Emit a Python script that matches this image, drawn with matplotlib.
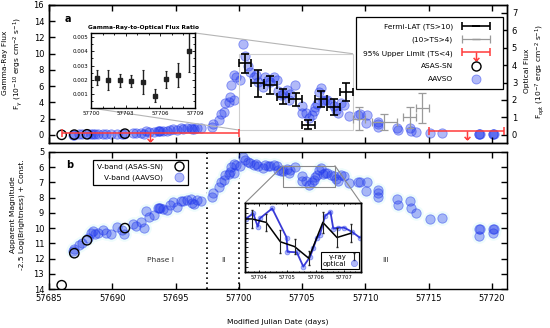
import numpy as np
import matplotlib.pyplot as plt
from matplotlib.patches import Rectangle, ConnectionPatch
from matplotlib.lines import Line2D
from matplotlib.path import Path
from matplotlib.container import ErrorbarContainer
from matplotlib.legend_handler import HandlerErrorbar, HandlerTuple
from matplotlib.ticker import FormatStrFormatter, MultipleLocator

# Fermi-LAT daily bins, TS>10 (flux in 1e-10 erg cm^-2 s^-1)
lat_mjd = [57700.5, 57701.5, 57702.5, 57703.5, 57704.5, 57705.5, 57706.5, 57707.5, 57708.5]
lat_flux = [8.8, 6.35, 6.1, 4.7, 4.4, 1.25, 4.4, 3.4, 5.3]
lat_err = [1.15, 1.7, 1.1, 0.9, 0.8, 0.55, 0.95, 1.0, 1.1]

# weak detections, 10>TS>4
weak_mjd = [57709.5, 57711.5, 57713.5, 57714.5]
weak_xerr = [0.5, 1.0, 0.5, 0.5]
weak_flux = [2.0, 1.6, 2.15, 3.3]
weak_err = [1.45, 1.0, 1.3, 1.85]

# 95% upper limits, TS<4
ul_mjd = [57693.0, 57718.0]
ul_xerr = [7.0, 3.0]
ul_flux = [0.2, 0.5]

# gamma-ray to optical flux ratio
ratio = [0.00215, 0.00197, 0.00197, 0.00192, 0.00184, 0.00088, 0.00202, 0.00233, 0.00403]
ratio_err = [0.00055, 0.0007, 0.00046, 0.00042, 0.00085, 0.00049, 0.00058, 0.00085, 0.0015]

# 12 h gamma-ray bins shown in the zoom of panel b
lat12_mjd = [57703.25, 57703.75, 57704.25, 57704.75, 57705.25, 57705.75, 57706.25, 57706.75, 57707.25]
lat12_flux = [6.15, 6.15, 5.75, 3.5, 2.95, 1.6, 5.75, 4.0, 4.5]
lat12_err = [1.0, 1.0, 0.95, 1.35, 0.85, 0.8, 1.25, 1.15, 1.05]

# ASAS-SN V band
asassn_mjd = [57686.0, 57687.0, 57688.0, 57691.0]
asassn_mag = [13.75, 11.65, 10.8, 10.0]

# AAVSO V band
aavso_mjd = [
    57686.9, 57687.0, 57687.4, 57687.6, 57688.1, 57688.3, 57688.5, 57688.6, 57688.9, 57689.3,
    57689.5, 57689.9, 57690.4, 57690.8, 57690.9, 57691.6, 57691.9, 57692.3, 57692.5, 57692.7,
    57692.9, 57693.3, 57693.6, 57693.7, 57693.8, 57694.0, 57694.3, 57694.6, 57694.8, 57695.1,
    57695.4, 57695.6, 57695.9, 57696.2, 57696.3, 57696.5, 57696.7, 57697.0,
    57697.9, 57698.0, 57698.4, 57698.6, 57698.8, 57698.9, 57699.2, 57699.3, 57699.4, 57699.6, 57699.6, 57699.8,
    57700.1, 57700.35, 57700.5, 57700.7, 57700.9, 57701.2, 57701.4, 57701.5, 57701.9, 57702.1,
    57702.3, 57702.5, 57702.8, 57703.0, 57703.1, 57703.3,
    57703.53, 57703.79, 57703.95, 57704.03, 57704.46, 57704.97, 57705.0, 57705.33, 57705.56, 57705.8,
    57705.91, 57706.03, 57706.15, 57706.33, 57706.52, 57706.62, 57706.8, 57707.0, 57707.27, 57707.55,
    57707.7, 57707.85, 57708.1, 57708.3, 57708.7, 57709.4, 57709.6, 57710.05, 57710.1, 57711.0,
    57711.0, 57711.0, 57712.5, 57712.6, 57713.5, 57713.6, 57714.0, 57715.1, 57716.1, 57719.0,
    57719.0, 57719.05, 57720.1, 57720.1, 57720.15]
aavso_mag = [
    11.5, 11.4, 11.1, 11.0, 10.65, 10.35, 10.2, 10.4, 10.3, 10.15,
    10.35, 10.4, 9.95, 10.15, 10.4, 9.7, 9.85, 9.6, 10.0, 8.9,
    9.3, 9.15, 8.7, 8.65, 8.65, 8.75, 8.8, 8.5, 8.3, 8.6,
    8.2, 8.25, 8.15, 8.1, 8.35, 8.4, 8.15, 8.2,
    7.95, 7.7, 7.3, 6.95, 6.85, 6.5, 6.45, 6.3, 6.0, 5.8, 6.4, 5.85,
    5.9, 5.35, 5.5, 5.65, 5.75, 5.85, 5.8, 5.95, 6.05, 5.85,
    5.9, 5.95, 5.85, 5.9, 6.15, 6.25,
    6.22, 6.11, 6.38, 6.21, 6.01, 6.6, 6.89, 6.9, 7.19, 6.99,
    6.82, 6.62, 6.54, 6.16, 6.08, 6.42, 6.4, 6.4, 6.48, 6.6,
    6.75, 6.9, 6.5, 6.55, 7.05, 7.0, 6.95, 7.55, 7.0, 7.5,
    7.7, 7.95, 8.1, 8.5, 8.2, 8.7, 9.0, 9.4, 9.35, 10.05,
    10.5, 10.05, 10.05, 10.35, 10.05]

phase_edges = [57697.5, 57700.0]
zoom_a = (57700.0, 57709.0, 0.6, 10.0)      # mjd0, mjd1, flux0, flux1
zoom_b = (57703.5, 57707.6, 5.9, 7.3)       # mjd0, mjd1, mag0, mag1

V_ZERO_FLUX = 720.0    # optical flux (1e-7 erg cm^-2 s^-1) of a V=0 source
AXIS_RATIO = 2.15      # left (gamma) units per right (optical) unit

aavso_mjd = np.array(aavso_mjd)
aavso_mag = np.array(aavso_mag)
aavso_flux = V_ZERO_FLUX * 10 ** (-0.4 * aavso_mag)
asassn_flux = V_ZERO_FLUX * 10 ** (-0.4 * np.array(asassn_mag))

blue_face = (0.13, 0.22, 0.93, 0.35)
blue_edge = (0.13, 0.22, 0.93, 0.5)
red = '#ff3b3b'
grey = '#9a9a9a'

plt.rcParams['font.family'] = 'DejaVu Sans'
plt.rcParams['xtick.direction'] = 'in'
plt.rcParams['ytick.direction'] = 'in'
plt.rcParams['axes.linewidth'] = 1.0

fig = plt.figure(figsize=(5.5, 3.28), dpi=100)

# ---------------- panel a ----------------
ax_a = fig.add_axes([0.0891, 0.564, 0.8327, 0.4208])
ax_o = ax_a.twinx()
ax_a.set_zorder(ax_o.get_zorder() + 1)
ax_a.patch.set_visible(False)

ax_o.scatter(aavso_mjd, aavso_flux, s=45, fc=blue_face, ec=blue_edge, lw=0.6)
ax_o.scatter(asassn_mjd, asassn_flux, s=45, facecolors='none', edgecolors='black', lw=1)

h_lat = ax_a.errorbar(lat_mjd, lat_flux, xerr=0.5, yerr=lat_err, fmt='none', ecolor='black',
                      elinewidth=1.2, capsize=3, capthick=1.2, zorder=4)
h_weak = ax_a.errorbar(weak_mjd, weak_flux, xerr=weak_xerr, yerr=weak_err, fmt='none', ecolor=grey,
                       elinewidth=0.9, capsize=3, capthick=0.9, zorder=3)
h_ul = ax_a.errorbar(ul_mjd, ul_flux, xerr=ul_xerr, fmt='none', ecolor=red,
                     elinewidth=1.1, capsize=3, capthick=1.1, zorder=3)
arrow = Path([(0, 0), (0, -1), (-0.35, -0.65), (0, -1), (0.35, -0.65)],
             [Path.MOVETO, Path.LINETO, Path.MOVETO, Path.LINETO, Path.LINETO])
h_arrow, = ax_a.plot(ul_mjd, ul_flux, ls='none', marker=arrow, ms=12, mfc='none', mec=red, mew=1.1)

ax_a.add_patch(Rectangle((zoom_a[0], zoom_a[2]), zoom_a[1] - zoom_a[0], zoom_a[3] - zoom_a[2],
                         fill=False, ec='#cfcfcf', lw=0.8, zorder=1))

ax_a.set_xlim(57685, 57721.2)
ax_a.set_ylim(-1, 16)
ax_o.set_ylim(-1 / AXIS_RATIO, 16 / AXIS_RATIO)
ax_a.set_yticks(range(0, 17, 2))
ax_o.set_yticks(range(0, 8))
ax_a.set_xticks(range(57685, 57721, 5))
ax_a.tick_params(top=True, labelbottom=False, labelsize=6, length=4.5, width=1)
ax_o.tick_params(labelsize=6, length=4.5, width=1)
ax_a.set_ylabel('Gamma-Ray Flux\nF$_\\gamma$ (10$^{-10}$ ergs cm$^{-2}$ s$^{-1}$)', fontsize=5.4,
                linespacing=1.4)
ax_a.yaxis.set_label_coords(-0.052, 0.58)
ax_o.set_ylabel('Optical Flux\nF$_{\\rm opt}$ (10$^{-7}$ ergs cm$^{-2}$ s$^{-1}$)', fontsize=5.4,
                linespacing=1.4, rotation=90)
ax_o.yaxis.set_label_coords(1.037, 0.52)
ax_a.text(0.035, 0.9, 'a', transform=ax_a.transAxes, fontsize=7, fontweight='bold', va='center')

h_asas = Line2D([], [], ls='none', marker='o', ms=6.5, mfc='none', mec='black', mew=1)
h_aav = Line2D([], [], ls='none', marker='o', ms=6.5, mfc=blue_face, mec=blue_edge, mew=0.6)
hmap = {ErrorbarContainer: HandlerErrorbar(xerr_size=1.9, yerr_size=0), tuple: HandlerTuple(ndivide=1)}
leg = ax_a.legend([h_lat, h_weak, (h_ul, h_arrow), h_asas, h_aav],
                  ['Fermi-LAT (TS>10)', '(10>TS>4)', '95% Upper Limit (TS<4)', 'ASAS-SN', 'AAVSO'],
                  handler_map=hmap, loc='upper right', bbox_to_anchor=(0.991, 0.915), markerfirst=False,
                  fontsize=5.3, handlelength=5.6, labelspacing=0.9, borderaxespad=0, fancybox=False,
                  edgecolor='black', framealpha=1, borderpad=0.9, handletextpad=0.3)
leg.get_frame().set_linewidth(0.9)

# ratio inset
ax_r = fig.add_axes([0.1655, 0.6707, 0.189, 0.2287])
ax_r.set_zorder(ax_a.get_zorder() + 1)
ax_r.errorbar(lat_mjd, ratio, yerr=ratio_err, fmt='s', ms=2.2, color='#222222', elinewidth=1,
              capsize=1, capthick=0.8)
ax_r.set_xlim(57700, 57709)
ax_r.set_ylim(0, 0.0053)
ax_r.set_xticks([57700, 57703, 57706, 57709])
ax_r.set_yticks([0.001, 0.002, 0.003, 0.004, 0.005])
ax_r.xaxis.set_major_formatter(FormatStrFormatter('%d'))
ax_r.yaxis.set_major_formatter(FormatStrFormatter('%.3f'))
ax_r.xaxis.set_minor_locator(MultipleLocator(1))
ax_r.yaxis.set_minor_locator(MultipleLocator(0.0005))
ax_r.tick_params(which='both', top=True, right=True, labelsize=4, length=2, width=0.6, pad=2)
ax_r.tick_params(which='minor', length=1.2)
ax_r.set_title('Gamma-Ray-to-Optical Flux Ratio', fontsize=4.2, fontweight='bold', pad=3)

for xa, xb in [((1, 1), (zoom_a[1], zoom_a[3])), ((0, 0), (zoom_a[0], zoom_a[2]))]:
    fig.add_artist(ConnectionPatch(xyA=xa, coordsA=ax_r.transAxes, xyB=xb, coordsB=ax_a.transData,
                                   color='#b5b5b5', lw=0.8))

# ---------------- panel b ----------------
ax_b = fig.add_axes([0.0891, 0.1189, 0.8327, 0.4177])
ax_b.scatter(aavso_mjd, aavso_mag, s=110, color='#eefcfc', lw=0, zorder=1)
ax_b.scatter(aavso_mjd, aavso_mag, s=45, fc=blue_face, ec=blue_edge, lw=0.6, zorder=2)
ax_b.scatter(asassn_mjd, asassn_mag, s=45, facecolors='none', edgecolors='black', lw=1, zorder=3)
for edge in phase_edges:
    ax_b.axvline(edge, color='black', ls=(0, (1, 2)), lw=1.2, zorder=0)
for x, lab in [(57693.8, 'Phase I'), (57698.8, 'II'), (57711.6, 'III')]:
    ax_b.text(x, 12.1, lab, fontsize=5.4, ha='center', va='center', color='#333333')

ax_b.add_patch(Rectangle((zoom_b[0], zoom_b[2]), zoom_b[1] - zoom_b[0], zoom_b[3] - zoom_b[2],
                         fill=False, ec='#8a8a8a', lw=0.8, zorder=4))

ax_b.set_xlim(57685, 57721.2)
ax_b.set_ylim(14, 5)
ax_b.set_yticks(range(5, 15))
ax_b.set_xticks(range(57685, 57721, 5))
ax_b.xaxis.set_major_formatter(FormatStrFormatter('%d'))
ax_b.tick_params(top=True, right=True, labelsize=6, length=4.5, width=1)
ax_b.set_xlabel('Modified Julian Date (days)', fontsize=5.4, labelpad=11)
ax_b.set_ylabel('Apparent Magnitude\n-2.5 Log(Brightness) + Const.', fontsize=5.4, linespacing=1.6)
ax_b.yaxis.set_label_coords(-0.052, 0.54)
ax_b.text(0.037, 0.905, 'b', transform=ax_b.transAxes, fontsize=7, fontweight='bold', va='center')

h_asas_b = Line2D([], [], ls='none', marker='o', ms=6.5, mfc='none', mec='black', mew=1)
leg_b = ax_b.legend([h_asas_b, h_aav], ['V-band (ASAS-SN)', 'V-band (AAVSO)'], loc='upper left',
                    bbox_to_anchor=(0.096, 0.942), markerfirst=False, fontsize=5.3, handlelength=1.5,
                    labelspacing=0.6, borderaxespad=0, fancybox=False, edgecolor='black', framealpha=1,
                    borderpad=0.5, handletextpad=1.5)
leg_b.get_frame().set_linewidth(0.9)

# zoom inset of panel b
ax_z = fig.add_axes([0.4455, 0.1707, 0.2109, 0.2104])
ax_z.set_zorder(ax_b.get_zorder() + 1)
sel = (aavso_mjd >= zoom_b[0]) & (aavso_mjd <= zoom_b[1])
ax_z.plot(aavso_mjd[sel], aavso_mag[sel], color='#3a3ad6', lw=1.3, marker='o', ms=3.5,
          mfc=blue_face, mec=blue_edge, mew=0.5)
ax_z.set_xlim(zoom_b[0], zoom_b[1])
ax_z.set_ylim(zoom_b[3], zoom_b[2])
ax_z.set_yticks(np.arange(5.9, 7.31, 0.1))
ax_z.set_yticklabels([])
ax_z.set_xticks([57704, 57705, 57706, 57707])
ax_z.xaxis.set_major_formatter(FormatStrFormatter('%d'))
ax_z.xaxis.set_minor_locator(MultipleLocator(0.2))
ax_z.tick_params(which='both', top=True, right=True, labelsize=3.8, length=1.8, width=0.6, pad=2)
ax_z.tick_params(which='minor', length=1)

ax_g = ax_z.twinx()
ax_g.plot(lat12_mjd, lat12_flux, color='black', lw=1.1)
h_g12 = ax_g.errorbar(lat12_mjd, lat12_flux, yerr=lat12_err, fmt='none', ecolor='#222222',
                      elinewidth=0.8, capsize=0.8)
ax_g.set_ylim(0, 8)
ax_g.set_yticks([])
ax_g.set_xlim(zoom_b[0], zoom_b[1])

h_opt = Line2D([], [], ls='none', marker='o', ms=4.5, mfc=blue_face, mec=blue_edge, mew=0.5)
leg_z = ax_g.legend([h_g12, h_opt], ['\u03b3-ray', 'optical'],
                    handler_map={ErrorbarContainer: HandlerErrorbar(xerr_size=0, yerr_size=0.5)},
                    loc='lower right', bbox_to_anchor=(0.985, 0.05), markerfirst=False, fontsize=5,
                    handlelength=1.0, labelspacing=0.15, borderaxespad=0, fancybox=False,
                    edgecolor='black', framealpha=1, borderpad=0.25, handletextpad=0.6)
leg_z.get_frame().set_linewidth(0.8)

for xa, xb in [((0, 1), (zoom_b[0], zoom_b[2])), ((1, 1), (zoom_b[1], zoom_b[2]))]:
    fig.add_artist(ConnectionPatch(xyA=xa, coordsA=ax_z.transAxes, xyB=xb, coordsB=ax_b.transData,
                                   color='#8a8a8a', lw=0.8))

fig.savefig('out.png', dpi=100)
